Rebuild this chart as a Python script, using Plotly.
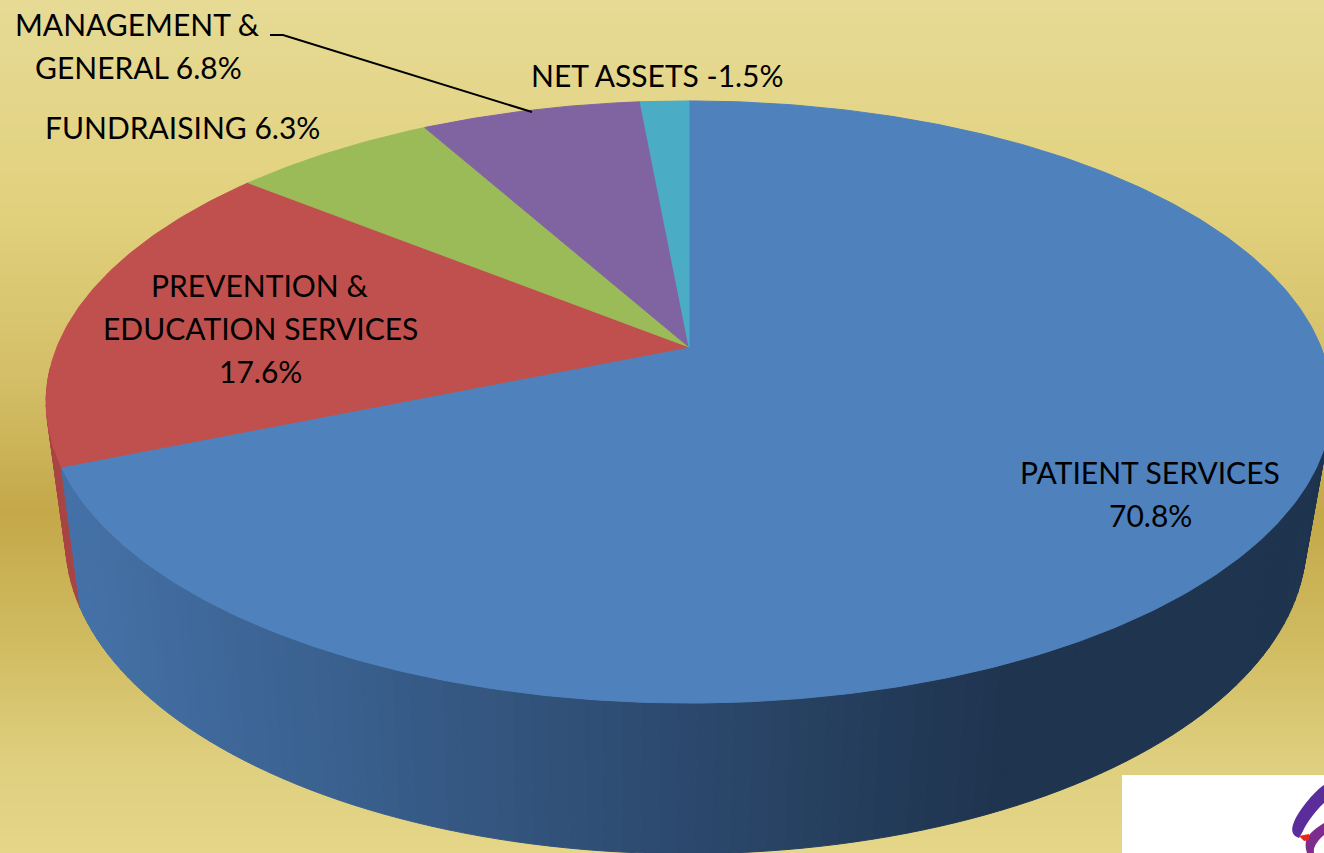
import numpy as np
import plotly.graph_objects as go

# ---- data ----
categories = ["PATIENT SERVICES", "PREVENTION & EDUCATION SERVICES", "FUNDRAISING",
              "MANAGEMENT & GENERAL", "NET ASSETS"]
values = [70.8, 17.6, 6.3, 6.8, -1.5]
top_colors = ["#4F81BD", "#C0504D", "#9BBB59", "#8064A2", "#4BACC6"]
wall_left = (68, 113, 167)
wall_right = (31, 52, 79)
red_wall = "#A84545"

bg_stops = [0.0, 0.23, 0.45, 0.60, 0.75, 0.90, 1.0]
bg_cols = ["#E6DA95", "#E2D27F", "#D3BE66", "#C4A84A", "#D0BB60", "#DFD080", "#E5D688"]

W, H = 1324, 853
TOP = dict(cx=689, y0=347, A=632, B=291, k=0.1827)
BOT = dict(cx=686, y0=483, A=610, B=303, k=0.1827)


def project(theta, p):
    X, Y = np.sin(theta), np.cos(theta)
    d = 1 + p["k"] * Y
    return p["cx"] + p["A"] * X / d, p["y0"] - p["B"] * Y / d


fracs = np.abs(values) / np.abs(values).sum()
edges = np.concatenate([[0], np.cumsum(fracs)]) * 2 * np.pi

fig = go.Figure()

# background gradient
ys = np.arange(0, H + 2, 2)
fig.add_trace(go.Heatmap(
    x=[0, W], y=ys, z=np.column_stack([ys / H, ys / H]),
    colorscale=[[s, c] for s, c in zip(bg_stops, bg_cols)], zmin=0, zmax=1,
    showscale=False, hoverinfo="skip"))


def wall_poly(a, b, n):
    t = np.linspace(a, b, n)
    x1, y1 = project(t, TOP)
    x2, y2 = project(t[::-1], BOT)
    return np.r_[x1, x2, x1[0]], np.r_[y1, y2, y1[0]]


# red wall: only the facets on the near side of the left silhouette
steps = np.linspace(edges[1], np.radians(266), 14)
for a, b in zip(steps[:-1], steps[1:]):
    x, y = wall_poly(a, b, 2)
    fig.add_trace(go.Scatter(x=x, y=y, mode="lines", fill="toself", fillcolor=red_wall,
                             line=dict(color=red_wall, width=1), hoverinfo="skip"))

# blue wall: facets from the right silhouette round to the end of the slice
steps = np.linspace(np.radians(96), edges[1], 110)
for a, b in zip(steps[:-1], steps[1:]):
    x, y = wall_poly(a, b, 2)
    f = np.clip((x.mean() - 80) / (1000 - 80), 0, 1)
    c = tuple(int(round(l + (r - l) * f)) for l, r in zip(wall_left, wall_right))
    col = "rgb(%d,%d,%d)" % c
    fig.add_trace(go.Scatter(x=x, y=y, mode="lines", fill="toself", fillcolor=col,
                             line=dict(color=col, width=1), hoverinfo="skip"))

# top face
for name, v, col, a, b in zip(categories, values, top_colors, edges[:-1], edges[1:]):
    t = np.linspace(a, b, max(8, int((b - a) * 90)))
    x, y = project(t, TOP)
    x = np.r_[TOP["cx"], x, TOP["cx"]]
    y = np.r_[TOP["y0"], y, TOP["y0"]]
    fig.add_trace(go.Scatter(x=x, y=y, mode="lines", fill="toself", fillcolor=col,
                             line=dict(color=col, width=1), name=name,
                             text="%s %.1f%%" % (name, v), hoverinfo="text"))

# leader line
fig.add_trace(go.Scatter(x=[270, 283, 532], y=[35, 35, 112], mode="lines",
                         line=dict(color="#000000", width=2), hoverinfo="skip"))

# logo corner
fig.add_shape(type="rect", x0=1122, y0=775, x1=W, y1=H, fillcolor="#FFFFFF",
              line=dict(width=0), layer="above")
fig.add_shape(type="path",
              path="M1324,785 C1316,790 1300,808 1294,822 C1290,831 1293,836 1299,838 "
                   "L1303,831 C1305,826 1314,812 1324,803 Z",
              fillcolor="#5B2D9B", line=dict(width=0), layer="above")
fig.add_shape(type="path",
              path="M1324,823 C1316,828 1308,834 1306,841 C1305,846 1306,850 1307,853 "
                   "L1314,853 C1313,848 1316,842 1324,835 Z",
              fillcolor="#7E2C8E", line=dict(width=0), layer="above")
fig.add_shape(type="path", path="M1299,836 L1309,834 L1309,840 L1304,841 Z",
              fillcolor="#E8261C", line=dict(width=0), layer="above")

# one row per text line, so the line spacing stays that of the reference
labels = [
    (137, 24, "MANAGEMENT &amp;"),
    (138, 67, "GENERAL 6.8%"),
    (182, 127, "FUNDRAISING 6.3%"),
    (657, 75, "NET ASSETS -1.5%"),
    (259, 285, "PREVENTION &amp;"),
    (260, 328, "EDUCATION SERVICES"),
    (260, 371, "17.6%"),
    (1150, 472, "PATIENT SERVICES"),
    (1150, 515, "70.8%"),
]
for lx, ly, txt in labels:
    fig.add_annotation(x=lx, y=ly, text=txt, showarrow=False, xanchor="center", yanchor="middle",
                       align="center", font=dict(family="Lato, Carlito, Calibri, sans-serif",
                                                 size=30, color="#000000"))

fig.update_layout(
    width=W, height=H, margin=dict(l=0, r=0, t=0, b=0), showlegend=False,
    paper_bgcolor="#E5D688", plot_bgcolor="#E5D688",
    xaxis=dict(range=[0, W], visible=False, fixedrange=True, constrain="domain"),
    yaxis=dict(range=[H, 0], visible=False, fixedrange=True),
)
fig.write_html("out.html", post_script="document.body.style.margin='0';document.body.style.overflow='hidden';",
               config={"displayModeBar": False})
